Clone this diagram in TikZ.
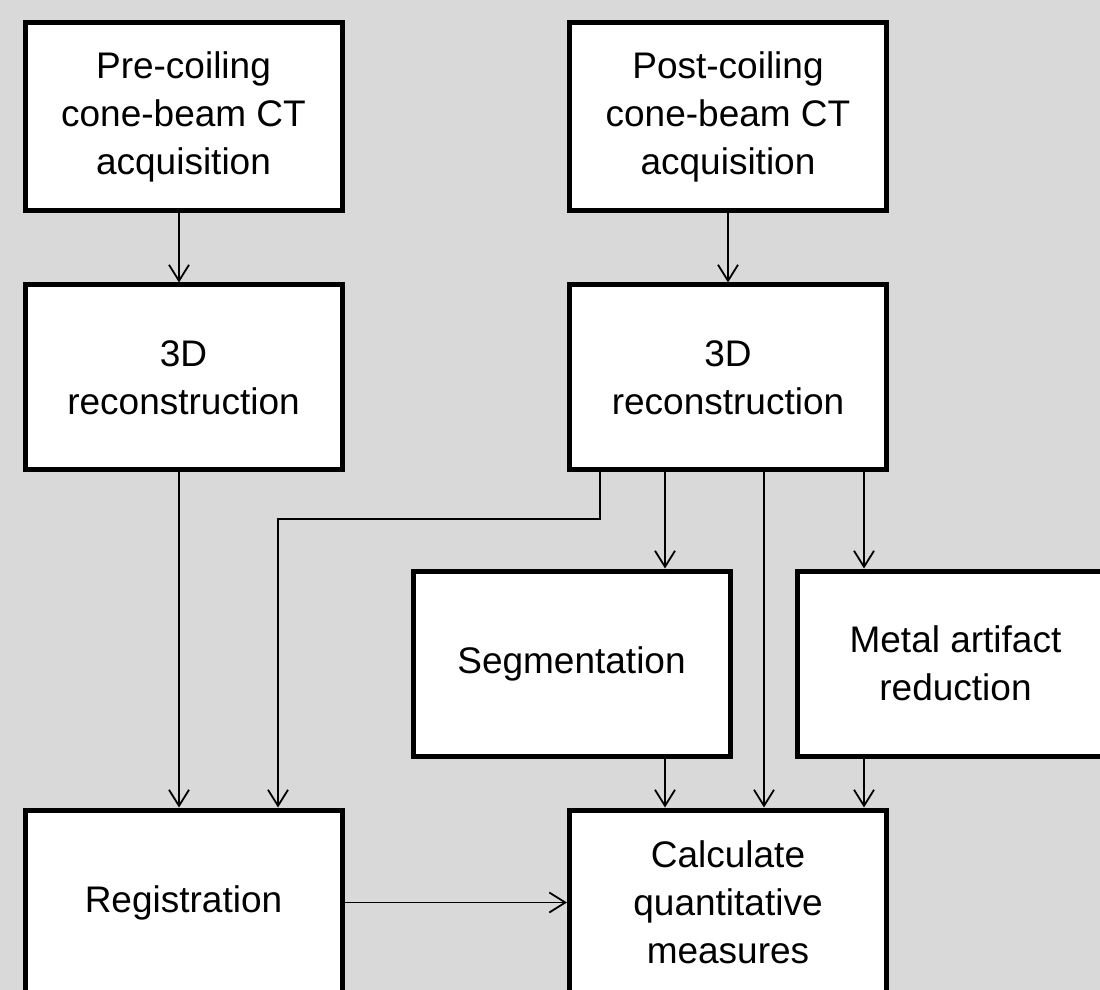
\documentclass[tikz,border=0pt]{standalone}
\usepackage{fontspec}
\setmainfont{Liberation Sans}
\usetikzlibrary{arrows.meta}
\definecolor{bggray}{HTML}{D9D9D9}
\begin{document}
\begin{tikzpicture}[x=0.5pt,y=-0.5pt,>={Straight Barb[length=8pt,width=10pt]},line join=miter,
  stepbox/.style={draw=black,fill=white,line width=2.5pt,minimum width=158.5pt,minimum height=92.5pt,
    inner sep=0pt,align=center,font=\fontsize{18.5}{24}\selectfont},
  link/.style={black,line width=0.9pt,->}]
%%
\path[fill=bggray,use as bounding box] (0,0) rectangle (1100,990);
\clip (0,0) rectangle (1100,990);
\node (pre_acq) at (183.5,117) [stepbox,minimum height=94pt] {Pre-coiling\\cone-beam CT\\acquisition};
  \node (post_acq) at (728,117) [stepbox,minimum height=94pt] {Post-coiling\\cone-beam CT\\acquisition};
  \node (pre_rec) at (183.5,377.5) [stepbox] {3D\\reconstruction};
  \node (post_rec) at (728,377.5) [stepbox] {3D\\reconstruction};
  \node (segm) at (571.5,663.5) [stepbox] {Segmentation};
  \node (mar) at (955.5,663.5) [stepbox] {Metal artifact\\reduction};
  \node (regis) at (183.5,902.5) [stepbox] {Registration};
  \node (calc) at (728,902.5) [stepbox] {Calculate\\quantitative\\measures};
%
\coordinate (col_pre) at (179,0);
  \coordinate (col_seg) at (665,0);
  \coordinate (col_mid) at (764,0);
  \coordinate (col_mar) at (864,0);
  \coordinate (elbow) at (278,519);
  \draw [link] (pre_acq.south -| col_pre) -- (pre_rec.north -| col_pre);
  \draw [link] (post_acq) -- (post_rec);
  \draw [link] (pre_rec.south -| col_pre) -- (regis.north -| col_pre);
  \draw [link] ([xshift=-64pt]post_rec.south) |- (elbow) -- (elbow |- regis.north);
  \draw [link] (post_rec.south -| col_seg) -- (segm.north -| col_seg);
  \draw [link] (post_rec.south -| col_mid) -- (calc.north -| col_mid);
  \draw [link] (post_rec.south -| col_mar) -- (mar.north -| col_mar);
  \draw [link] (segm.south -| col_seg) -- (calc.north -| col_seg);
  \draw [link] (mar.south -| col_mar) -- (calc.north -| col_mar);
  \draw [link] (regis) -- (calc);
%
\end{tikzpicture}
\end{document}
